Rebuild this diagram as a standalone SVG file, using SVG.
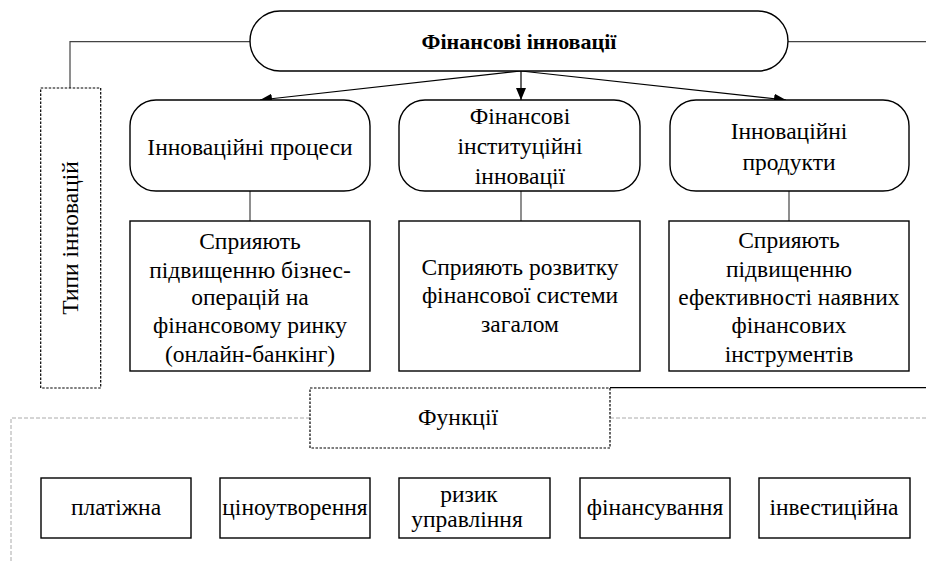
<svg xmlns="http://www.w3.org/2000/svg" width="926" height="563" viewBox="0 0 926 563">
<defs>
<marker id="ah" viewBox="0 0 12 10" refX="12" refY="5" markerWidth="12" markerHeight="10" markerUnits="userSpaceOnUse" orient="auto">
<path d="M0,0 L12,5 L0,10 Z" fill="#000"/>
</marker>
</defs>
<rect width="926" height="563" fill="#fff"/>
<g id="connectors" fill="none">
<polyline points="250,41.7 70,41.7 70,88" stroke="#444" stroke-width="1.2"/>
<line x1="788" y1="41.7" x2="926" y2="41.7" stroke="#444" stroke-width="1.2"/>
<line x1="521" y1="71" x2="260" y2="100" stroke="#000" stroke-width="1.2" marker-end="url(#ah)"/>
<line x1="521" y1="71" x2="521" y2="100" stroke="#000" stroke-width="1.2" marker-end="url(#ah)"/>
<line x1="521" y1="71" x2="786" y2="100" stroke="#000" stroke-width="1.2" marker-end="url(#ah)"/>
<line x1="250" y1="191" x2="250" y2="221" stroke="#444" stroke-width="1.2"/>
<line x1="521" y1="191" x2="521" y2="221" stroke="#444" stroke-width="1.2"/>
<line x1="789" y1="191" x2="789" y2="221" stroke="#444" stroke-width="1.2"/>
<line x1="610" y1="387.7" x2="926" y2="387.7" stroke="#000" stroke-width="1.2"/>
<polyline points="310,418 11,418 11,563" stroke="#aaa" stroke-width="1" stroke-dasharray="4 2"/>
<line x1="610" y1="418" x2="926" y2="418" stroke="#aaa" stroke-width="1" stroke-dasharray="4 2"/>
</g>
<g id="n-root">
<rect x="250" y="11" width="538" height="60" rx="30" fill="#fff" stroke="#000" stroke-width="1.4"/>
<text x="519" y="49" text-anchor="middle" font-family="Times New Roman" font-size="22" font-weight="bold">Фінансові інновації</text>
</g>
<g id="n-types">
<rect x="40.7" y="88" width="60" height="300" fill="#fff" stroke="#000" stroke-width="1.2" stroke-dasharray="2.5 1.5"/>
<text transform="translate(78,238) rotate(-90)" text-anchor="middle" font-family="Times New Roman" font-size="23.5">Типи інновацій</text>
</g>
<g id="n-proc">
<rect x="130" y="100" width="240" height="91" rx="26" fill="#fff" stroke="#000" stroke-width="1.4"/>
<text x="250" y="155" text-anchor="middle" font-family="Times New Roman" font-size="23.5">Інноваційні процеси</text>
</g>
<g id="n-inst">
<rect x="399" y="100" width="241" height="91" rx="26" fill="#fff" stroke="#000" stroke-width="1.4"/>
<text x="520" y="124" text-anchor="middle" font-family="Times New Roman" font-size="23.5">Фінансові</text>
<text x="520" y="154" text-anchor="middle" font-family="Times New Roman" font-size="23.5">інституційні</text>
<text x="520" y="184" text-anchor="middle" font-family="Times New Roman" font-size="23.5">інновації</text>
</g>
<g id="n-prod">
<rect x="670" y="100" width="239" height="91" rx="26" fill="#fff" stroke="#000" stroke-width="1.4"/>
<text x="789" y="139" text-anchor="middle" font-family="Times New Roman" font-size="23.5">Інноваційні</text>
<text x="789" y="170" text-anchor="middle" font-family="Times New Roman" font-size="23.5">продукти</text>
</g>
<g id="n-proc-d">
<rect x="130" y="221" width="240" height="150" fill="#fff" stroke="#000" stroke-width="1.4"/>
<text x="250" y="249" text-anchor="middle" font-family="Times New Roman" font-size="23.5">Сприяють</text>
<text x="250" y="278" text-anchor="middle" font-family="Times New Roman" font-size="23.5">підвищенню бізнес-</text>
<text x="250" y="305" text-anchor="middle" font-family="Times New Roman" font-size="23.5">операцій на</text>
<text x="250" y="333" text-anchor="middle" font-family="Times New Roman" font-size="23.5">фінансовому ринку</text>
<text x="250" y="362" text-anchor="middle" font-family="Times New Roman" font-size="23.5">(онлайн-банкінг)</text>
</g>
<g id="n-inst-d">
<rect x="399" y="221" width="241" height="150" fill="#fff" stroke="#000" stroke-width="1.4"/>
<text x="520" y="275" text-anchor="middle" font-family="Times New Roman" font-size="23.5">Сприяють розвитку</text>
<text x="520" y="303" text-anchor="middle" font-family="Times New Roman" font-size="23.5">фінансової системи</text>
<text x="520" y="332" text-anchor="middle" font-family="Times New Roman" font-size="23.5">загалом</text>
</g>
<g id="n-prod-d">
<rect x="669" y="221" width="240" height="150" fill="#fff" stroke="#000" stroke-width="1.4"/>
<text x="789" y="248" text-anchor="middle" font-family="Times New Roman" font-size="23.5">Сприяють</text>
<text x="789" y="277" text-anchor="middle" font-family="Times New Roman" font-size="23.5">підвищенню</text>
<text x="789" y="305" text-anchor="middle" font-family="Times New Roman" font-size="23.5">ефективності наявних</text>
<text x="789" y="333" text-anchor="middle" font-family="Times New Roman" font-size="23.5">фінансових</text>
<text x="789" y="362" text-anchor="middle" font-family="Times New Roman" font-size="23.5">інструментів</text>
</g>
<g id="n-func">
<rect x="310" y="388" width="300" height="60" fill="#fff" stroke="#000" stroke-width="1.2" stroke-dasharray="2.5 1.5"/>
<text x="458" y="425" text-anchor="middle" font-family="Times New Roman" font-size="23.5">Функції</text>
</g>
<g id="n-f1">
<rect x="41" y="478" width="150" height="60" fill="#fff" stroke="#000" stroke-width="1.4"/>
<text x="116" y="515" text-anchor="middle" font-family="Times New Roman" font-size="23.5">платіжна</text>
</g>
<g id="n-f2">
<rect x="220" y="478" width="150" height="60" fill="#fff" stroke="#000" stroke-width="1.4"/>
<text x="295" y="515" text-anchor="middle" font-family="Times New Roman" font-size="23.5">ціноутворення</text>
</g>
<g id="n-f3">
<rect x="399" y="478" width="151" height="60" fill="#fff" stroke="#000" stroke-width="1.4"/>
<text x="469" y="502" text-anchor="middle" font-family="Times New Roman" font-size="23.5">ризик</text>
<text x="467" y="527" text-anchor="middle" font-family="Times New Roman" font-size="23.5">управління</text>
</g>
<g id="n-f4">
<rect x="580" y="478" width="150" height="60" fill="#fff" stroke="#000" stroke-width="1.4"/>
<text x="655" y="515" text-anchor="middle" font-family="Times New Roman" font-size="23.5">фінансування</text>
</g>
<g id="n-f5">
<rect x="759" y="478" width="151" height="60" fill="#fff" stroke="#000" stroke-width="1.4"/>
<text x="834" y="515" text-anchor="middle" font-family="Times New Roman" font-size="23.5">інвестиційна</text>
</g>
</svg>
